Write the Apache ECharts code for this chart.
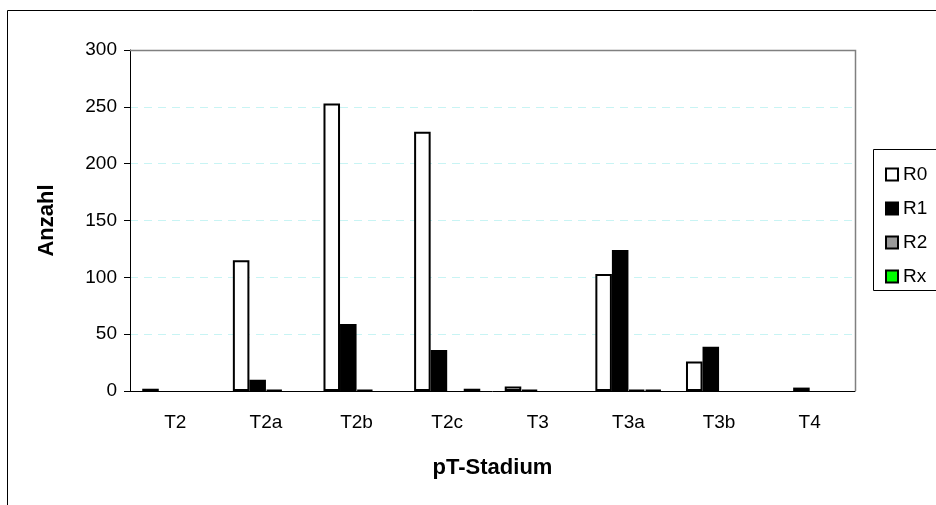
<!DOCTYPE html>
<html><head><meta charset="utf-8">
<script src="https://cdn.jsdelivr.net/npm/echarts@6/dist/echarts.min.js"></script>
<style>html,body{margin:0;padding:0;background:#fff}#c{width:936px;height:505px}</style>
</head><body><div id="c"></div>
<script>
const categories = ['T2','T2a','T2b','T2c','T3','T3a','T3b','T4'];
const seriesNames = ['R0','R1','R2','Rx'];
const r0 = [2, 115, 253, 228, 4, 103, 26, null];
const r1 = [null, 10, 59, 36, 1, 124, 39, 3];
const r2 = [null, 1, 1, null, null, 1, null, null];
const rx = [null, null, null, 2, null, 1, null, null];
const yTicks = [0, 50, 100, 150, 200, 250, 300];

const fills = ['#ffffff', '#000000', '#999999', '#00ff00'];
const values = [r0, r1, r2, rx];
const font = 'Liberation Sans, Arial, sans-serif';

const chart = echarts.init(document.getElementById('c'), null, {renderer: 'canvas'});
chart.setOption({
  animation: false,
  backgroundColor: '#fff',
  textStyle: {fontFamily: font},
  grid: {left: 130, right: 81, top: 50, bottom: 114},
  legend: {
    orient: 'vertical', left: 880, top: 160, itemWidth: 12, itemHeight: 12, itemGap: 15,
    icon: 'rect',
    textStyle: {fontFamily: font, fontSize: 19, color: '#000'},
    data: seriesNames
  },
  graphic: [
    {type: 'rect', shape: {x: 7.5, y: 10.5, width: 1000, height: 1000}, style: {fill: 'none', stroke: '#000', lineWidth: 1}, silent: true, z: -1},
    {type: 'rect', shape: {x: 873.5, y: 149.5, width: 100, height: 141}, style: {fill: 'none', stroke: '#000', lineWidth: 1}, silent: true, z: -1},
    {type: 'polyline', shape: {points: [[130, 50.5], [855.5, 50.5], [855.5, 391]]}, style: {fill: 'none', stroke: '#808080', lineWidth: 1.5}, silent: true, z: 100}
  ],
  xAxis: {
    type: 'category', data: categories,
    axisLine: {lineStyle: {color: '#000', width: 1}},
    axisTick: {show: false},
    axisLabel: {color: '#000', fontSize: 19, fontFamily: font, margin: 22},
    name: 'pT-Stadium', nameLocation: 'middle', nameGap: 66,
    nameTextStyle: {fontWeight: 'bold', fontSize: 22, fontFamily: font, color: '#000'}
  },
  yAxis: {
    type: 'value', min: yTicks[0], max: yTicks[yTicks.length-1], interval: 50,
    axisLine: {show: true, lineStyle: {color: '#000', width: 1}},
    axisTick: {show: true, length: 6, lineStyle: {color: '#000'}},
    axisLabel: {color: '#000', fontSize: 19, fontFamily: font, margin: 13},
    splitLine: {show: true, lineStyle: {color: '#c8f4f4', type: [8, 6], width: 1}},
    name: 'Anzahl', nameLocation: 'middle', nameGap: 72,
    nameTextStyle: {fontWeight: 'bold', fontSize: 22, fontFamily: font, color: '#000'}
  },
  series: seriesNames.map((n, i) => ({
    name: n, type: 'bar', data: values[i],
    barGap: '0%', barCategoryGap: '27%',
    itemStyle: {color: fills[i], borderColor: '#000', borderWidth: 2}
  }))
});
</script></body></html>
